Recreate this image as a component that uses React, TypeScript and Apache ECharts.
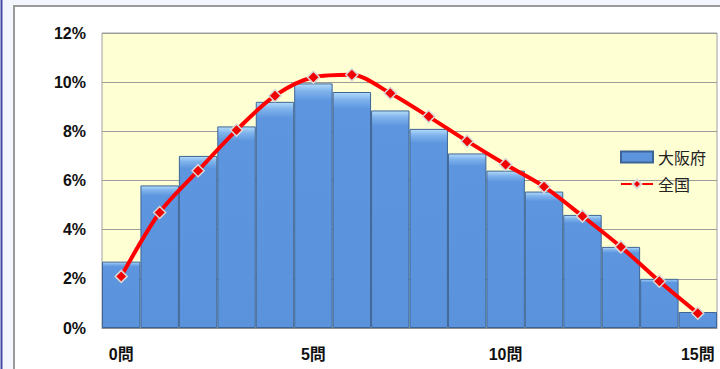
import React, { useEffect, useRef } from "react";
import * as echarts from "echarts";

const categories = ["0問","1問","2問","3問","4問","5問","6問","7問","8問","9問","10問","11問","12問","13問","14問","15問"];
const osakaValues = [2.7, 5.8, 7.0, 8.2, 9.2, 9.95, 9.6, 8.85, 8.1, 7.1, 6.4, 5.55, 4.6, 3.3, 2.0, 0.65];
const nationalValues = [2.1, 4.7, 6.4, 8.05, 9.45, 10.2, 10.3, 9.55, 8.6, 7.6, 6.65, 5.75, 4.55, 3.3, 1.9, 0.6];
const seriesNames = ["大阪府", "全国"];

export default function App() {
  const ref = useRef<HTMLDivElement>(null);
  useEffect(() => {
    if (!ref.current) return;
    const chart = echarts.init(ref.current, null, { renderer: "svg" });
    const font = "'Liberation Sans', Arial, 'Noto Sans CJK JP', sans-serif";
    chart.setOption({
      animation: false,
      backgroundColor: "#F3F7FD",
      graphic: [
        { type: "line", shape: { x1: 1.5, y1: 0, x2: 1.5, y2: 369 }, style: { stroke: "#4848A8", lineWidth: 2 }, z: -10 },
        { type: "rect", shape: { x: 14, y: 6, width: 720, height: 400 }, style: { fill: "#FFFFFF", stroke: "#9A9A9A", lineWidth: 2 }, z: -10 },
      ],
      grid: {
        left: 102, right: 3, top: 33, bottom: 41,
        show: true,
        backgroundColor: "#FFFFD4",
        borderColor: "#A0A0A0",
        borderWidth: 1,
      },
      legend: {
        orient: "vertical",
        left: 615,
        top: 144,
        itemWidth: 32,
        itemHeight: 11,
        itemGap: 11,
        textStyle: { fontSize: 16, color: "#222", fontFamily: "'Noto Sans CJK JP', sans-serif" },
        data: [
          { name: seriesNames[0], icon: "rect" },
          { name: seriesNames[1] },
        ],
      },
      xAxis: {
        type: "category",
        data: categories,
        boundaryGap: true,
        axisTick: { show: false },
        axisLine: { show: true, lineStyle: { color: "#909090" } },
        axisLabel: {
          interval: 4,
          margin: 18,
          fontSize: 16,
          fontWeight: "bold",
          color: "#111",
          fontFamily: font,
        },
      },
      yAxis: {
        type: "value",
        min: 0,
        max: 12,
        interval: 2,
        axisLine: { show: false },
        axisTick: { show: false },
        splitLine: { lineStyle: { color: "#9C9C9C", width: 1 } },
        axisLabel: {
          formatter: "{value}%",
          margin: 16,
          fontSize: 16,
          fontWeight: "bold",
          color: "#111",
          fontFamily: font,
        },
      },
      series: [
        {
          name: seriesNames[0],
          type: "bar",
          data: osakaValues,
          barCategoryGap: "0%",
          itemStyle: {
            color: new echarts.graphic.LinearGradient(0, 0, 0, 1, [
              { offset: 0, color: "#B4DCFA" },
              { offset: 0.03, color: "#7FB3EC" },
              { offset: 0.07, color: "#5D96DF" },
              { offset: 1, color: "#5A93DC" },
            ]),
            borderColor: "#3D6496",
            borderWidth: 1,
          },
        },
        {
          name: seriesNames[1],
          type: "line",
          data: nationalValues,
          smooth: 0.3,
          symbol: "diamond",
          symbolSize: 12,
          lineStyle: { color: "#FF0000", width: 4 },
          itemStyle: { color: "#F00000", borderColor: "#D8D8D8", borderWidth: 1.5 },
          z: 5,
        },
      ],
    });
    return () => chart.dispose();
  }, []);
  return <div ref={ref} style={{ position: "absolute", left: 0, top: 0, width: 720, height: 369 }} />;
}
